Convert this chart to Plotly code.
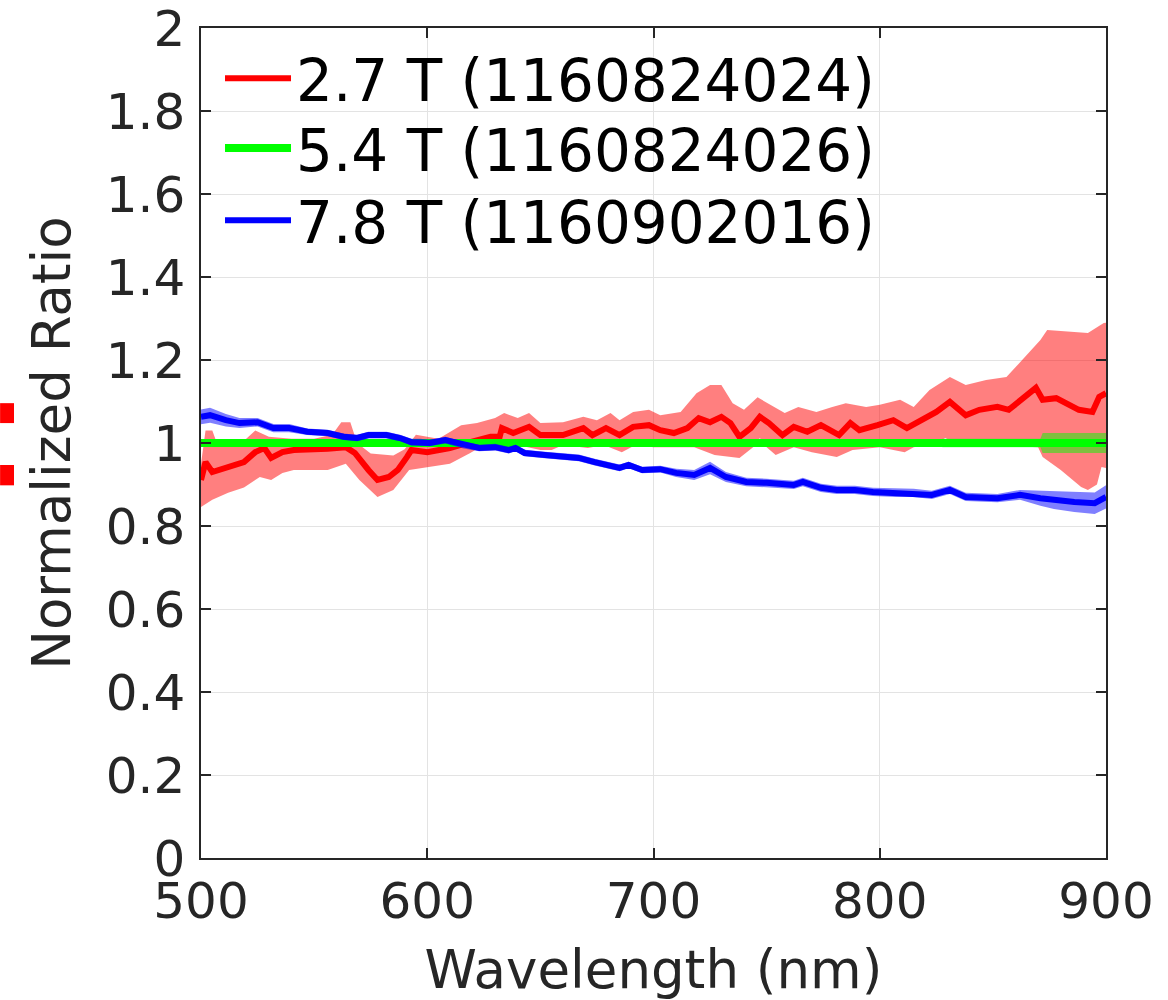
import plotly.graph_objects as go

# ---------------- data ----------------
red_w = [500, 502, 505, 512, 519, 524, 528, 531, 536, 541, 549, 556, 564, 568, 574, 578, 583, 587, 591, 593,
         600, 610, 619, 628, 632, 633, 638, 645, 650, 660, 669, 673, 679, 685, 691, 698, 703, 709, 715, 720,
         725, 730, 734, 738, 743, 747, 751, 757, 762, 768, 774, 779, 782, 787, 791, 799, 806, 812, 819, 825,
         831, 838, 844, 852, 857, 863, 869, 872, 878, 888, 894, 897, 900]
red_v = [0.911, 0.954, 0.930, 0.942, 0.954, 0.978, 0.988, 0.964, 0.978, 0.983, 0.983, 0.986, 0.990, 0.976, 0.935,
         0.911, 0.918, 0.935, 0.966, 0.983, 0.978, 0.988, 1.002, 1.015, 1.015, 1.036, 1.024, 1.039, 1.019, 1.019,
         1.036, 1.019, 1.036, 1.019, 1.039, 1.043, 1.031, 1.024, 1.036, 1.060, 1.050, 1.063, 1.048, 1.015, 1.036,
         1.063, 1.048, 1.019, 1.039, 1.027, 1.043, 1.027, 1.019, 1.048, 1.031, 1.043, 1.055, 1.036, 1.055, 1.075,
         1.099, 1.067, 1.080, 1.087, 1.080, 1.108, 1.133, 1.104, 1.108, 1.080, 1.075, 1.111, 1.120]

red_up_w = [500, 502, 505, 507, 515, 520, 524, 530, 540, 550, 558, 562, 566, 569, 575, 585, 590, 595, 605, 615,
            622, 630, 634, 640, 645, 650, 660, 669, 675, 681, 685, 691, 698, 703, 712, 719, 725, 730, 735, 740,
            746, 753, 758, 764, 772, 779, 785, 794, 800, 809, 815, 822, 831, 838, 847, 856, 863, 868, 871, 874,
            883, 892, 899, 900]
red_up_v = [0.950, 1.030, 1.030, 1.000, 1.000, 1.010, 1.030, 1.015, 1.010, 1.010, 1.020, 1.050, 1.050, 1.000, 0.975,
            0.970, 0.985, 1.020, 1.010, 1.043, 1.048, 1.060, 1.072, 1.060, 1.072, 1.048, 1.050, 1.063, 1.055, 1.072,
            1.055, 1.075, 1.080, 1.067, 1.075, 1.120, 1.140, 1.140, 1.096, 1.080, 1.110, 1.087, 1.072, 1.087, 1.075,
            1.087, 1.096, 1.087, 1.092, 1.104, 1.087, 1.128, 1.159, 1.140, 1.152, 1.159, 1.200, 1.230, 1.248, 1.272,
            1.268, 1.265, 1.289, 1.290]

red_lo_w = [500, 505, 512, 519, 526, 531, 536, 541, 556, 564, 570, 578, 585, 592, 600, 610, 619, 625, 640, 650,
            655, 660, 671, 678, 686, 692, 700, 710, 718, 727, 738, 744, 747, 750, 754, 762, 770, 781, 788, 800,
            811, 815, 825, 829, 833, 850, 870, 872, 880, 889, 892, 896, 898, 900]
red_lo_v = [0.846, 0.863, 0.880, 0.893, 0.918, 0.911, 0.928, 0.935, 0.935, 0.950, 0.911, 0.870, 0.887, 0.935, 0.942,
            0.950, 0.976, 0.995, 0.995, 0.983, 0.983, 0.995, 0.988, 0.995, 0.978, 0.995, 0.990, 0.990, 0.990, 0.971,
            0.964, 0.990, 1.012, 0.990, 0.971, 0.990, 0.978, 0.966, 0.983, 0.990, 0.978, 0.990, 1.000, 1.012, 1.000,
            0.995, 0.990, 0.966, 0.935, 0.894, 0.887, 0.900, 0.942, 0.940]

green_w = [500, 600, 700, 820, 828, 871, 872, 900]
green_v = [1.0, 1.0, 1.0, 1.0, 1.0, 1.0, 1.0, 1.0]
green_err = [0.004, 0.004, 0.004, 0.004, 0.010, 0.010, 0.024, 0.024]

blue_w = [500, 504, 511, 517, 525, 532, 539, 547, 556, 563, 569, 574, 582, 588, 593, 597, 601, 608, 616, 623,
          630, 636, 639, 643, 652, 667, 674, 685, 689, 695, 703, 710, 718, 725, 732, 741, 750, 762, 766, 774,
          781, 789, 797, 807, 815, 823, 831, 838, 852, 862, 871, 877, 886, 895, 900]
blue_v = [1.063, 1.067, 1.055, 1.048, 1.050, 1.036, 1.036, 1.027, 1.024, 1.015, 1.012, 1.019, 1.019, 1.012, 1.002,
          1.002, 1.000, 1.007, 0.995, 0.988, 0.990, 0.983, 0.988, 0.976, 0.971, 0.964, 0.954, 0.940, 0.947, 0.935,
          0.937, 0.928, 0.923, 0.940, 0.918, 0.906, 0.904, 0.899, 0.906, 0.892, 0.887, 0.887, 0.882, 0.880, 0.880,
          0.875, 0.887, 0.870, 0.867, 0.875, 0.867, 0.863, 0.858, 0.855, 0.870]
blue_err = [0.018, 0.018, 0.015, 0.012, 0.010, 0.010, 0.010, 0.008, 0.008, 0.008, 0.008, 0.008, 0.008, 0.008, 0.008,
            0.008, 0.008, 0.008, 0.008, 0.008, 0.008, 0.008, 0.008, 0.008, 0.008, 0.008, 0.008, 0.008, 0.008, 0.008,
            0.008, 0.010, 0.012, 0.015, 0.012, 0.010, 0.010, 0.010, 0.010, 0.010, 0.010, 0.010, 0.010, 0.010, 0.010,
            0.010, 0.010, 0.010, 0.010, 0.012, 0.018, 0.022, 0.024, 0.026, 0.028]

names = ["2.7 T (1160824024)", "5.4 T (1160824026)", "7.8 T (1160902016)"]
x_ticks = [500, 600, 700, 800, 900]
y_ticks = [0, 0.2, 0.4, 0.6, 0.8, 1, 1.2, 1.4, 1.6, 1.8, 2]
y_ticktext = ["0", "0.2", "0.4", "0.6", "0.8", "1", "1.2", "1.4", "1.6", "1.8", "2"]

# ---------------- figure ----------------
FONT = "DejaVu Sans"
fig = go.Figure()

def band(xu, yu, xl, yl, color):
    return go.Scatter(x=list(xu) + list(xl)[::-1], y=list(yu) + list(yl)[::-1],
                      fill="toself", fillcolor=color, line=dict(width=0),
                      mode="lines", showlegend=False, hoverinfo="skip")

# red
fig.add_trace(band(red_up_w, red_up_v, red_lo_w, red_lo_v, "rgba(255,0,0,0.5)"))
fig.add_trace(go.Scatter(x=red_w, y=red_v, mode="lines", name=names[0], legend="legend",
                         line=dict(color="#ff0000", width=6)))
# green
g_up = [v + e for v, e in zip(green_v, green_err)]
g_lo = [v - e for v, e in zip(green_v, green_err)]
fig.add_trace(band(green_w, g_up, green_w, g_lo, "rgba(0,255,0,0.5)"))
fig.add_trace(go.Scatter(x=green_w, y=green_v, mode="lines", name=names[1], legend="legend2",
                         line=dict(color="#00ff00", width=8)))
# blue
b_up = [v + e for v, e in zip(blue_v, blue_err)]
b_lo = [v - e for v, e in zip(blue_v, blue_err)]
fig.add_trace(band(blue_w, b_up, blue_w, b_lo, "rgba(0,0,255,0.5)"))
fig.add_trace(go.Scatter(x=blue_w, y=blue_v, mode="lines", name=names[2], legend="legend3",
                         line=dict(color="#0000ff", width=6)))

axis_common = dict(
    showline=True, linecolor="#262626", linewidth=1.5, mirror="ticks",
    ticks="inside", ticklen=10, tickwidth=1.5, tickcolor="#262626",
    showgrid=True, gridcolor="#e3e3e3", gridwidth=1, zeroline=False,
    ticklabeloverflow="allow", automargin=False,
    tickfont=dict(family=FONT, size=50, color="#262626"),
)

fig.update_xaxes(range=[500, 900], tickvals=x_ticks, ticklabelstandoff=-2,
                 title=dict(text="Wavelength (nm)", font=dict(family=FONT, size=53, color="#262626"), standoff=22),
                 **axis_common)
fig.update_yaxes(range=[0, 2], tickvals=y_ticks, ticktext=y_ticktext, ticklabelstandoff=4,
                 title=dict(text="Normalized Ratio", font=dict(family=FONT, size=53, color="#262626"), standoff=18),
                 **axis_common)

# stray red markers at the left edge of the reference image
for y0, y1 in [(0.524, 0.548), (0.449, 0.4735)]:
    fig.add_shape(type="rect", xref="paper", yref="paper", x0=-0.222, x1=-0.2066, y0=y0, y1=y1,
                  fillcolor="#ff0000", line=dict(width=0))

leg_common = dict(x=0.021, xanchor="left", yanchor="middle", itemwidth=66,
                  bgcolor="rgba(0,0,0,0)", borderwidth=0,
                  font=dict(family=FONT, size=58, color="#000000"))

fig.update_layout(
    width=1168, height=1000,
    margin=dict(l=201, r=62, t=28, b=142, autoexpand=False),
    paper_bgcolor="white", plot_bgcolor="white",
    font=dict(family=FONT, color="#262626"),
    legend=dict(y=0.939, **leg_common),
    legend2=dict(y=0.855, **leg_common),
    legend3=dict(y=0.768, **leg_common),
    showlegend=True,
)

fig.write_html("out.html")
